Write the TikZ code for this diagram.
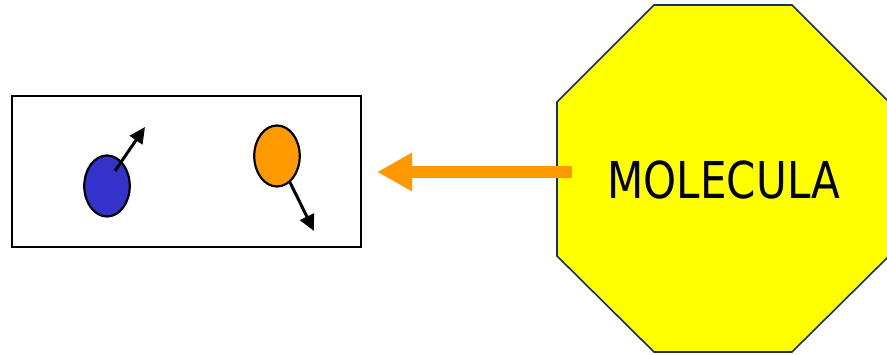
\documentclass[tikz,border=0pt]{standalone}
\usepackage{fontspec}
\setmainfont{DejaVu Sans Condensed}
\usetikzlibrary{arrows.meta,shapes.geometric}
\definecolor{molblue}{HTML}{3333CC}
\definecolor{molorange}{HTML}{FF9900}
\definecolor{molyellow}{HTML}{FFFF00}
\definecolor{navy}{HTML}{1A2E66}
\tikzset{
  particle/.style={ellipse, draw=black, line width=2.2pt, minimum width=45.5pt, minimum height=61pt, inner sep=0pt},
  spin/.style={draw=black, line width=3pt, -{Triangle[length=16pt,width=15pt]}},
  emission/.style={draw=molorange, line width=11.5pt, line cap=butt, -{Triangle[length=35pt,width=36pt]}},
  frame/.style={draw=black, line width=2pt, minimum width=349pt, minimum height=151pt, inner sep=0pt},
}
\begin{document}
\begin{tikzpicture}[x=1pt,y=-1pt]
  \useasboundingbox (0,0) rectangle (887,355);
  % octagon with label
  \filldraw[fill=molyellow, draw=navy, line width=1.6pt]
    (654,5) -- (792,5) -- (889,102) -- (889,256) -- (792,352) -- (654,352) -- (557,256) -- (557,102) -- cycle;
  \node (mol) at (724,180) {\scalebox{0.92}[1]{\fontsize{50.8pt}{60pt}\selectfont MOLECULA}};
  % detector box with two particles
  \node[frame] (box) at (186.5,171.5) {};
  \node[particle, fill=molblue] (blue) at (107,186) {};
  \coordinate (bstart) at (115,171);
  \coordinate (bend) at (145,127);
  \draw[spin] (bstart) -- (bend);
  \coordinate (oend) at (314,231);
  \node[particle, fill=molorange] (orange) at (277,156) {};
  \draw[spin] (orange) -- (oend);
  % emission arrow
  \coordinate (estart) at (572,172);
  \draw[emission] (estart) -- ([xshift=15pt]box.east |- estart);
\end{tikzpicture}
\end{document}
